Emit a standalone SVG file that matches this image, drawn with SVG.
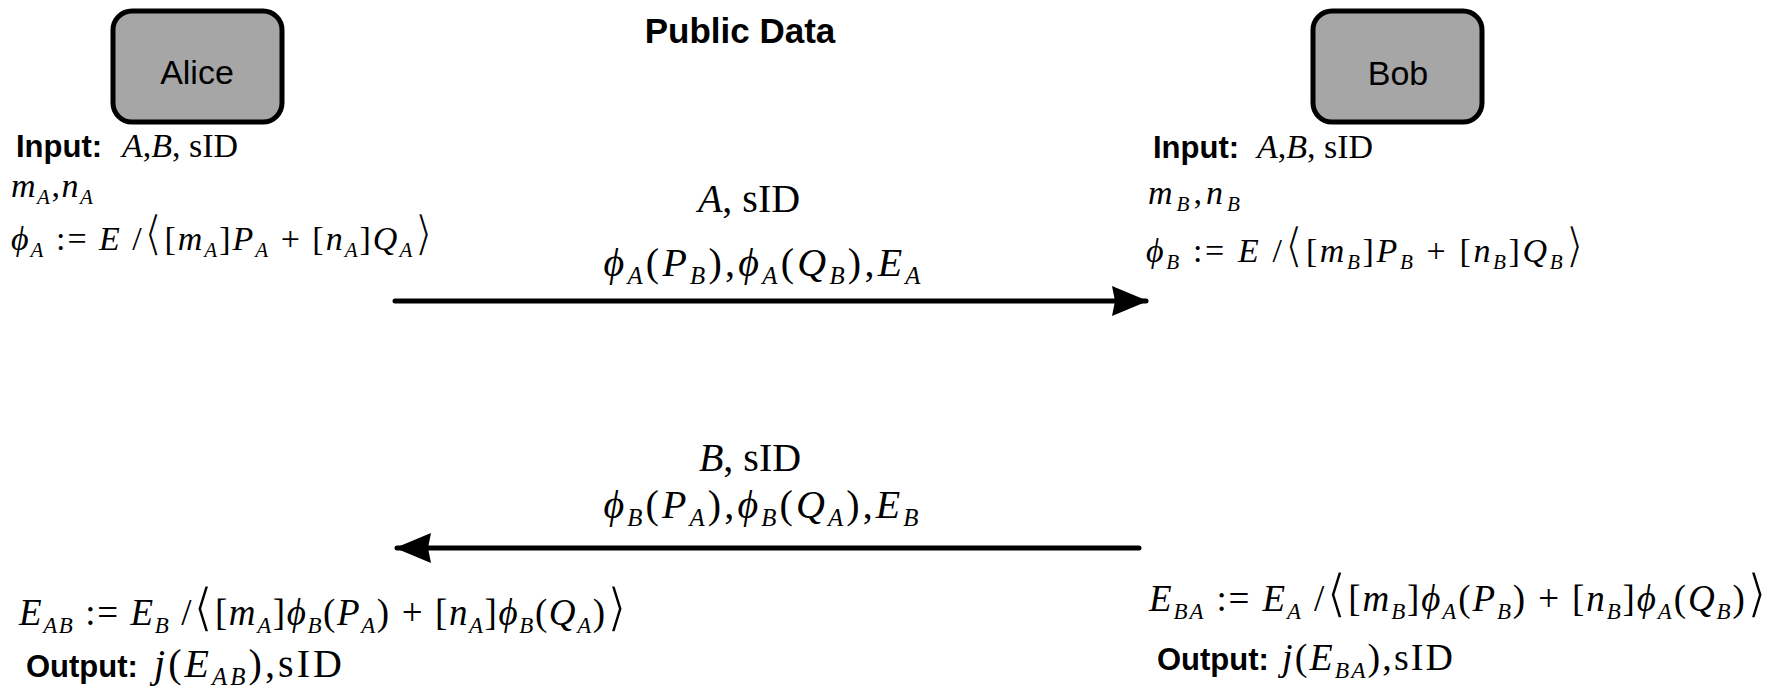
<svg xmlns="http://www.w3.org/2000/svg" width="1787" height="694" viewBox="0 0 1787 694">
  <style>
    .box { fill: #a6a6a6; stroke: #000; stroke-width: 5; }
    .name { font-family: "Liberation Sans", Arial, sans-serif; font-size: 34px; fill: #000; text-anchor: middle; }
    .title { font-family: "Liberation Sans", Arial, sans-serif; font-size: 35px; font-weight: bold; fill: #000; text-anchor: middle; }
    .lab { font-family: "Liberation Sans", Arial, sans-serif; font-size: 31px; font-weight: bold; fill: #000; }
    .m { font-family: "Liberation Serif", "Times New Roman", "DejaVu Serif", serif; fill: #000; }
    .i { font-style: italic; }
    .s { font-style: italic; font-size: 62%; }
    /* thin, tall angle brackets: the white outline trims the heavy glyph strokes */
    .br { font-family: "DejaVu Sans", "Liberation Serif", serif; stroke: #fff; stroke-width: 1.6px; }
    .wire { stroke: #000; stroke-width: 5; stroke-linecap: round; fill: none; }
  </style>
  <defs>
    <marker id="head" markerUnits="userSpaceOnUse" markerWidth="38" markerHeight="34" refX="34" refY="17" orient="auto">
      <path d="M0,2 L36,17 L0,32 L3,17 Z" fill="#000"/>
    </marker>
  </defs>

  <text class="title" x="740" y="43">Public Data</text>

  <g id="alice">
    <rect class="box" x="113" y="11" width="169" height="111" rx="19"/>
    <text class="name" x="197" y="84">Alice</text>
  </g>

  <g id="bob">
    <rect class="box" x="1313" y="11" width="169" height="111" rx="19"/>
    <text class="name" x="1398" y="85">Bob</text>
  </g>

  <!-- Alice's setup -->
  <g id="alice-setup">
    <text class="lab" x="16" y="157">Input:</text>
    <text class="m" x="122" y="157" font-size="34"><tspan class="i">A</tspan>,<tspan class="i">B</tspan>, sID</text>
    <text class="m" x="11" y="197" font-size="34" textLength="82" lengthAdjust="spacing"><tspan class="i">m</tspan><tspan class="s" dy="7">A</tspan><tspan dy="-7">,</tspan><tspan class="i">n</tspan><tspan class="s" dy="7">A</tspan></text>
    <text class="m" x="11" y="250" font-size="34" textLength="422" lengthAdjust="spacing"><tspan class="i">ϕ</tspan><tspan class="s" dy="7">A</tspan><tspan dy="-7"> := </tspan><tspan class="i">E</tspan> /<tspan class="br" font-size="48">⟨</tspan>[<tspan class="i">m</tspan><tspan class="s" dy="7">A</tspan><tspan dy="-7">]</tspan><tspan class="i">P</tspan><tspan class="s" dy="7">A</tspan><tspan dy="-7"> + [</tspan><tspan class="i">n</tspan><tspan class="s" dy="7">A</tspan><tspan dy="-7">]</tspan><tspan class="i">Q</tspan><tspan class="s" dy="7">A</tspan><tspan class="br" dy="-7" font-size="48">⟩</tspan></text>
  </g>

  <!-- Bob's setup -->
  <g id="bob-setup">
    <text class="lab" x="1153" y="158">Input:</text>
    <text class="m" x="1257" y="158" font-size="34"><tspan class="i">A</tspan>,<tspan class="i">B</tspan>, sID</text>
    <text class="m" x="1148" y="204" font-size="34" textLength="92" lengthAdjust="spacing"><tspan class="i">m</tspan><tspan class="s" dy="7">B</tspan><tspan dy="-7">,</tspan><tspan class="i">n</tspan><tspan class="s" dy="7">B</tspan></text>
    <text class="m" x="1146" y="262" font-size="34" textLength="438" lengthAdjust="spacing"><tspan class="i">ϕ</tspan><tspan class="s" dy="7">B</tspan><tspan dy="-7"> := </tspan><tspan class="i">E</tspan> /<tspan class="br" font-size="48">⟨</tspan>[<tspan class="i">m</tspan><tspan class="s" dy="7">B</tspan><tspan dy="-7">]</tspan><tspan class="i">P</tspan><tspan class="s" dy="7">B</tspan><tspan dy="-7"> + [</tspan><tspan class="i">n</tspan><tspan class="s" dy="7">B</tspan><tspan dy="-7">]</tspan><tspan class="i">Q</tspan><tspan class="s" dy="7">B</tspan><tspan class="br" dy="-7" font-size="48">⟩</tspan></text>
  </g>

  <!-- messages -->
  <g id="msg-a">
    <text class="m" x="749" y="212" font-size="40" text-anchor="middle"><tspan class="i">A</tspan>, sID</text>
    <text class="m" x="762" y="276" font-size="40" text-anchor="middle" textLength="317" lengthAdjust="spacing"><tspan class="i">ϕ</tspan><tspan class="s" dy="8">A</tspan><tspan dy="-8">(</tspan><tspan class="i">P</tspan><tspan class="s" dy="8">B</tspan><tspan dy="-8">),</tspan><tspan class="i">ϕ</tspan><tspan class="s" dy="8">A</tspan><tspan dy="-8">(</tspan><tspan class="i">Q</tspan><tspan class="s" dy="8">B</tspan><tspan dy="-8">),</tspan><tspan class="i">E</tspan><tspan class="s" dy="8">A</tspan></text>
  </g>
  <g id="msg-b">
    <text class="m" x="750" y="471" font-size="40" text-anchor="middle"><tspan class="i">B</tspan>, sID</text>
    <text class="m" x="761" y="518" font-size="40" text-anchor="middle" textLength="315" lengthAdjust="spacing"><tspan class="i">ϕ</tspan><tspan class="s" dy="8">B</tspan><tspan dy="-8">(</tspan><tspan class="i">P</tspan><tspan class="s" dy="8">A</tspan><tspan dy="-8">),</tspan><tspan class="i">ϕ</tspan><tspan class="s" dy="8">B</tspan><tspan dy="-8">(</tspan><tspan class="i">Q</tspan><tspan class="s" dy="8">A</tspan><tspan dy="-8">),</tspan><tspan class="i">E</tspan><tspan class="s" dy="8">B</tspan></text>
  </g>

  <g id="connectors">
    <line class="wire" x1="395" y1="301" x2="1146" y2="301" marker-end="url(#head)"/>
    <line class="wire" x1="1139" y1="548" x2="397" y2="548" marker-end="url(#head)"/>
  </g>

  <!-- Alice's result -->
  <g id="alice-result">
    <text class="m" x="19" y="625" font-size="37" textLength="608" lengthAdjust="spacing"><tspan class="i">E</tspan><tspan class="s" dy="8">AB</tspan><tspan dy="-8"> := </tspan><tspan class="i">E</tspan><tspan class="s" dy="8">B</tspan><tspan dy="-8"> /</tspan><tspan class="br" font-size="52">⟨</tspan>[<tspan class="i">m</tspan><tspan class="s" dy="8">A</tspan><tspan dy="-8">]</tspan><tspan class="i">ϕ</tspan><tspan class="s" dy="8">B</tspan><tspan dy="-8">(</tspan><tspan class="i">P</tspan><tspan class="s" dy="8">A</tspan><tspan dy="-8">) + [</tspan><tspan class="i">n</tspan><tspan class="s" dy="8">A</tspan><tspan dy="-8">]</tspan><tspan class="i">ϕ</tspan><tspan class="s" dy="8">B</tspan><tspan dy="-8">(</tspan><tspan class="i">Q</tspan><tspan class="s" dy="8">A</tspan><tspan dy="-8">)</tspan><tspan class="br" font-size="52">⟩</tspan></text>
    <text class="lab" x="26" y="677">Output:</text>
    <text class="m" x="154" y="677" font-size="40" textLength="188" lengthAdjust="spacing"><tspan class="i">j</tspan>(<tspan class="i">E</tspan><tspan class="s" dy="8">AB</tspan><tspan dy="-8">),sID</tspan></text>
  </g>

  <!-- Bob's result -->
  <g id="bob-result">
    <text class="m" x="1149" y="611" font-size="37" textLength="618" lengthAdjust="spacing"><tspan class="i">E</tspan><tspan class="s" dy="8">BA</tspan><tspan dy="-8"> := </tspan><tspan class="i">E</tspan><tspan class="s" dy="8">A</tspan><tspan dy="-8"> /</tspan><tspan class="br" font-size="52">⟨</tspan>[<tspan class="i">m</tspan><tspan class="s" dy="8">B</tspan><tspan dy="-8">]</tspan><tspan class="i">ϕ</tspan><tspan class="s" dy="8">A</tspan><tspan dy="-8">(</tspan><tspan class="i">P</tspan><tspan class="s" dy="8">B</tspan><tspan dy="-8">) + [</tspan><tspan class="i">n</tspan><tspan class="s" dy="8">B</tspan><tspan dy="-8">]</tspan><tspan class="i">ϕ</tspan><tspan class="s" dy="8">A</tspan><tspan dy="-8">(</tspan><tspan class="i">Q</tspan><tspan class="s" dy="8">B</tspan><tspan dy="-8">)</tspan><tspan class="br" font-size="52">⟩</tspan></text>
    <text class="lab" x="1157" y="670">Output:</text>
    <text class="m" x="1282" y="670" font-size="38" textLength="171" lengthAdjust="spacing"><tspan class="i">j</tspan>(<tspan class="i">E</tspan><tspan class="s" dy="8">BA</tspan><tspan dy="-8">),sID</tspan></text>
  </g>
</svg>
